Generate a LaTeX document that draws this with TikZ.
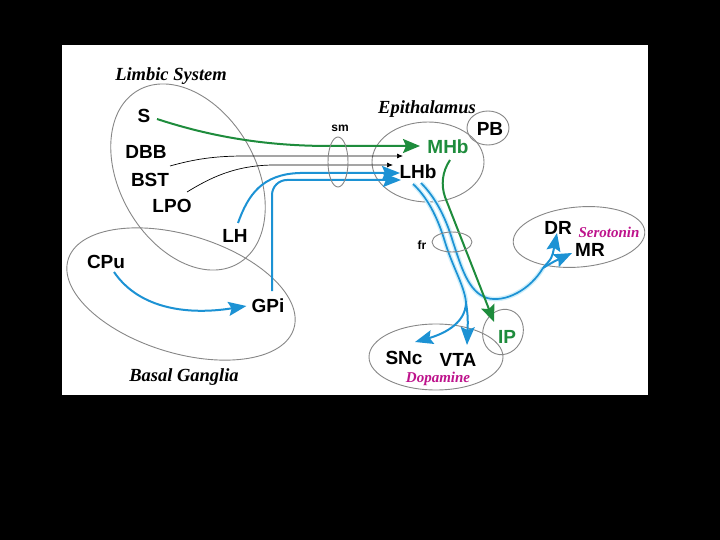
\documentclass[tikz,border=0pt]{standalone}
\usepackage{fontspec}
\setmainfont{Liberation Serif}
\setsansfont{Liberation Sans}
\usetikzlibrary{arrows.meta}
\definecolor{grn}{RGB}{30,140,60}
\definecolor{blu}{RGB}{28,146,212}
\definecolor{halo}{RGB}{205,238,250}
\definecolor{mag}{RGB}{190,20,140}
\definecolor{ellgray}{RGB}{135,135,135}
\begin{document}
\begin{tikzpicture}[x=1pt,y=-1pt,
 lbl/.style={font=\sffamily\bfseries\fontsize{19}{19}\selectfont, inner sep=0pt, text height=13.6pt, text depth=0pt},
 small/.style={font=\sffamily\bfseries\fontsize{12}{12}\selectfont, inner sep=0pt},
 head/.style={font=\rmfamily\bfseries\itshape\fontsize{18.5}{18.5}\selectfont, inner sep=0pt, text height=12.2pt, text depth=0pt},
 sub/.style={font=\rmfamily\bfseries\itshape\fontsize{15}{15}\selectfont, text=mag, inner sep=0pt, text height=10pt, text depth=0pt},
 region/.style={draw=ellgray, line width=0.9pt},
 gline/.style={draw=grn, line width=2pt, -{Stealth[length=17pt,width=14pt,inset=3pt]}},
 bline/.style={draw=blu, line width=2pt, -{Stealth[length=18pt,width=14pt,inset=3pt]}},
 bpath/.style={draw=blu, line width=1.7pt, preaction={draw=halo, line width=4.5pt}},
 kline/.style={draw=black, line width=0.7pt, -{Latex[length=6pt,width=5pt]}},
]
\useasboundingbox (0,0) rectangle (720,540);
\fill[black] (0,0) rectangle (720,540);
\fill[white] (62,45) rectangle (648,395);

% regions
\draw[region, rotate around={-60:(188,177)}] (188,177) ellipse [x radius=100pt, y radius=68pt];
\draw[region, rotate around={-17:(181,294)}] (181,294) ellipse [x radius=118pt, y radius=59pt];
\draw[region] (428,162) ellipse [x radius=56pt, y radius=40pt];
\draw[region] (488,128) ellipse [x radius=21pt, y radius=17pt];
\draw[region, rotate around={5:(579,237)}] (579,237) ellipse [x radius=66pt, y radius=30pt];
\draw[region, rotate around={-20:(503,332)}] (503,332) ellipse [x radius=20pt, y radius=23pt];
\draw[region] (436,357) ellipse [x radius=67pt, y radius=33pt];

% labels
\node[head] (limbic) at (171,74) {Limbic System};
\node[head] (basal) at (184,375) {Basal Ganglia};
\node[head] (epi) at (427,107) {Epithalamus};
\node[sub] (sero) at (609,232) {Serotonin};
\node[sub] (dopa) at (438,377) {Dopamine};

\node[lbl] (S) at (144,116) {S};
\node[lbl] (DBB) at (146,152) {DBB};
\node[lbl] (BST) at (150,180) {BST};
\node[lbl] (LPO) at (172,206) {LPO};
\node[lbl] (LH) at (235,236) {LH};
\node[lbl] (CPu) at (106,262) {CPu};
\node[lbl] (GPi) at (268,306) {GPi};
\node[lbl, text=grn] (MHb) at (448,147) {MHb};
\node[lbl] (LHb) at (418,172) {LHb};
\node[lbl] (PB) at (490,129) {PB};
\node[lbl] (DR) at (558,228) {DR};
\node[lbl] (MR) at (590,250) {MR};
\node[lbl, text=grn] (IP) at (507,337) {IP};
\node[lbl] (SNc) at (404,358) {SNc};
\node[lbl] (VTA) at (458,360) {VTA};
\node[small] (sm) at (340,128) {sm};
\node[small] (fr) at (422,245) {fr};

% coordinates
\coordinate (s0) at (157,119);
\coordinate (mhbIn) at (420,146);
\coordinate (k1) at (170,166);
\coordinate (k1e) at (403,156);
\coordinate (k2) at (187,192);
\coordinate (k2e) at (393,165);
\coordinate (lh0) at (238,223);
\coordinate (lhbIn1) at (400,173);
\coordinate (gp0) at (272,291);
\coordinate (lhbIn2) at (401,180);
\coordinate (a0) at (413,184);
\coordinate (b0) at (421,183);
\coordinate (split1) at (466,302);
\coordinate (split2) at (543,268);
\coordinate (snTip) at (415,342);
\coordinate (vtTip) at (467,345);
\coordinate (drTip) at (557,233);
\coordinate (mrTip) at (572,253);
\coordinate (g0) at (450,160);
\coordinate (ipTip) at (494,322);

% connectors
\draw[bpath] (a0) .. controls (426,196) and (437,215) .. (445,242) .. controls (453,268) and (464,285) .. (split1);
\draw[bpath] (b0) .. controls (434,196) and (445,215) .. (453,242) .. controls (461,266) and (468,292) .. (487,298) .. controls (505,303) and (530,290) .. (split2);
\draw[bline] (split1) .. controls (466,325) and (440,335) .. (snTip);
\draw[bline] (split1) .. controls (468,318) .. (vtTip);
\draw[bline] (split2) .. controls (552,258) .. (drTip);
\draw[bline] (split2) .. controls (553,262) .. (mrTip);
\draw[gline] (g0) .. controls (442,172) and (441,185) .. (445,197) -- (ipTip);

\draw[gline] (s0) .. controls (215,138) and (270,146) .. (330,146) -- (mhbIn);
\draw[kline] (k1) .. controls (195,159) and (215,156) .. (245,156) -- (k1e);
\draw[kline] (k2) .. controls (210,178) and (235,165) .. (275,165) -- (k2e);
\draw[bline] (lh0) .. controls (248,195) and (262,174) .. (300,173) -- (lhbIn1);
\draw[bline, rounded corners=15pt] (gp0) -- (272,180) -- (lhbIn2);
\draw[bline] (CPu.south) ++(8,3) coordinate (cp0) .. controls (140,310) and (190,315) .. ([xshift=-5pt]GPi.west);

\draw[region] (338,162) ellipse [x radius=10pt, y radius=25pt];
\draw[region] (452,242) ellipse [x radius=20pt, y radius=10pt];
\end{tikzpicture}
\end{document}
